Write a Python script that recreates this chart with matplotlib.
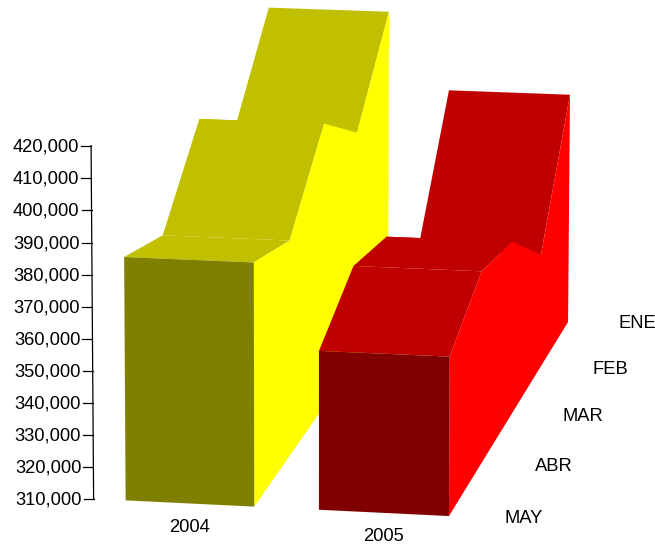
#!/usr/bin/env python3
import numpy as np
import matplotlib
matplotlib.use("Agg")
import matplotlib.pyplot as plt
from matplotlib.patches import Polygon

# ── Data ──────────────────────────────────────────────────────────────────────
months = ["MAY", "ABR", "MAR", "FEB", "ENE"]      # front to back
years = ["2004", "2005"]
values_2004 = [386000, 378300, 401400, 384800, 411400]
values_2005 = [359500, 371100, 365900, 347200, 386000]
axis_ticks = list(range(310000, 430000, 10000))

colors_2004 = {"top": "#C0C000", "side": "#FFFF00", "front": "#808000"}
colors_2005 = {"top": "#C00000", "side": "#FF0000", "front": "#800000"}

BASE = 310000
BAR_SPANS = [(0.0, 1.0), (1.5, 2.5)]
AXIS_X = -0.25

plt.rcParams["font.family"] = ["Liberation Sans", "DejaVu Sans"]

# ── Camera ────────────────────────────────────────────────────────────────────
# Reference corners of the scene (across, depth, value) -> canvas pixel
CAMERA_ANCHORS = [
    ((0.0, 0, 310000), (126, 500)),
    ((1.0, 0, 310000), (254, 507)),
    ((2.5, 0, 310000), (449, 516)),
    ((2.5, 4, 310000), (568, 322)),
    ((0.0, 0, 386000), (124, 257)),
    ((1.0, 0, 386000), (254, 262)),
    ((1.5, 4, 386000), (449, 90)),
    ((2.5, 4, 386000), (570, 95)),
    ((AXIS_X, 0, 310000), (93.5, 499)),
    ((AXIS_X, 0, 420000), (91, 146)),
]


def scene_vector(across, depth, value):
    return [across, depth, (value - BASE) / 10000.0, 1.0]


def fit_camera(anchors):
    rows = []
    for point, (u, v) in anchors:
        p = scene_vector(*point)
        rows.append(p + [0, 0, 0, 0] + [-u * c for c in p])
        rows.append([0, 0, 0, 0] + p + [-v * c for c in p])
    _, _, vt = np.linalg.svd(np.array(rows))
    return vt[-1].reshape(3, 4)


CAMERA = fit_camera(CAMERA_ANCHORS)


def project(across, depth, value):
    u, v, w = CAMERA @ np.array(scene_vector(across, depth, value))
    return u / w, v / w


# ── Drawing ───────────────────────────────────────────────────────────────────

def add_face(ax, points, color):
    ax.add_patch(Polygon([project(*p) for p in points], closed=True,
                         facecolor=color, edgecolor="none"))


def draw_ribbon(ax, x0, x1, values, colors):
    depths = range(len(values))
    # top surfaces, back to front
    for z in reversed(range(len(values) - 1)):
        add_face(ax, [(x0, z, values[z]), (x1, z, values[z]),
                      (x1, z + 1, values[z + 1]), (x0, z + 1, values[z + 1])],
                 colors["top"])
    # right wall covers the top surfaces that lean away from the viewer
    wall = [(x1, z, values[z]) for z in depths]
    wall += [(x1, len(values) - 1, BASE), (x1, 0, BASE)]
    add_face(ax, wall, colors["side"])
    add_face(ax, [(x0, 0, values[0]), (x1, 0, values[0]),
                  (x1, 0, BASE), (x0, 0, BASE)], colors["front"])


fig = plt.figure(figsize=(6.55, 5.44), dpi=100, facecolor="white")
ax = fig.add_axes([0, 0, 1, 1])
ax.set_xlim(0, 655)
ax.set_ylim(544, 0)
ax.axis("off")

draw_ribbon(ax, *BAR_SPANS[0], values_2004, colors_2004)
draw_ribbon(ax, *BAR_SPANS[1], values_2005, colors_2005)

# value axis
TEXT_SIZE = 13.2
ax.plot(*zip(project(AXIS_X, 0, axis_ticks[0]), project(AXIS_X, 0, axis_ticks[-1])),
        color="black", lw=0.9)
for tick in axis_ticks:
    x, y = project(AXIS_X, 0, tick)
    ax.plot([x - 10, x], [y, y], color="black", lw=0.9)
    ax.text(x - 12, y + 1, f"{tick:,}", ha="right", va="center", fontsize=TEXT_SIZE)

# year labels under the front faces
for year, (x0, x1) in zip(years, BAR_SPANS):
    x, y = project((x0 + x1) / 2, 0, BASE)
    ax.text(x, y + 24, year, ha="center", va="center", fontsize=TEXT_SIZE)

# month labels beside the right floor edge, shrinking with depth
for z, month in enumerate(months):
    x, y = project(BAR_SPANS[1][1] + 0.57, z, BASE)
    ax.text(x, y - 1.5, month, ha="center", va="center", fontsize=TEXT_SIZE)

fig.savefig("out.png", dpi=100)
